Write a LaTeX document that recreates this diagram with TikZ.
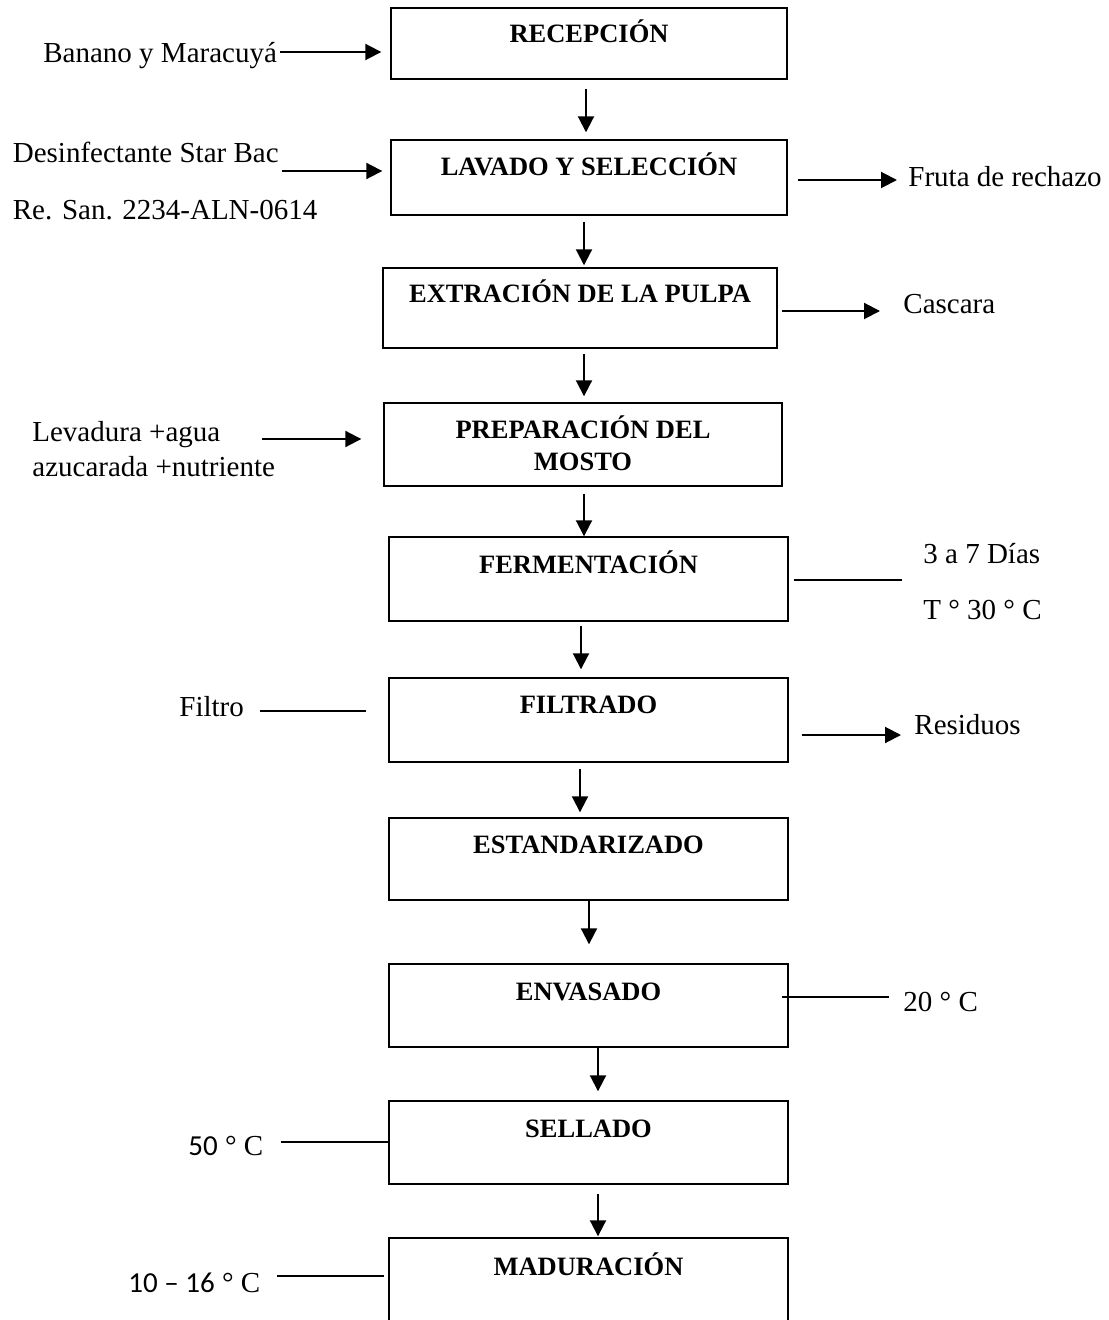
\documentclass[tikz,border=0pt]{standalone}
\usepackage{fontspec}
\setmainfont{Liberation Serif}
\newfontfamily\carl{Carlito}
\usetikzlibrary{arrows.meta}
\begin{document}
\begin{tikzpicture}[x=0.5pt,y=-0.5pt,
  box/.style={draw, line width=0.7pt, rectangle, inner sep=0pt},
  btxt/.style={font=\fontsize{13.25}{16}\selectfont\bfseries, inner sep=0pt, anchor=base},
  txt/.style={font=\fontsize{14.5}{17.5}\selectfont, inner sep=0pt, anchor=base west},
  arr/.style={line width=1pt, -{Triangle[length=8pt,width=8pt]}},
  ln/.style={line width=0.6pt}]
\useasboundingbox (0,0) rectangle (1108,1320);
\clip (0,0) rectangle (1108,1320);
\fill[white] (0,0) rectangle (1108,1320);

% process boxes
\node[box, minimum width=198pt, minimum height=35.5pt] (rec) at (589,43.5) {};
\node[btxt] (recT) at (589,43) {RECEPCIÓN};
\node[box, minimum width=198pt, minimum height=37.5pt] (lav) at (589,177.5) {};
\node[btxt] (lavT) at (589,176) {LAVADO Y SELECCIÓN};
\node[box, minimum width=197pt, minimum height=40pt] (ext) at (580,308) {};
\node[btxt] (extT) at (580,303) {EXTRACIÓN DE LA PULPA};
\node[box, minimum width=199pt, minimum height=41.5pt] (prep) at (583,444.5) {};
\node[btxt] (prepT1) at (583,438) {PREPARACIÓN DEL};
\node[btxt] (prepT2) at (583,470) {MOSTO};
\node[box, minimum width=199.5pt, minimum height=42pt] (ferm) at (588.5,579) {};
\node[btxt] (fermT) at (588.5,573) {FERMENTACIÓN};
\node[box, minimum width=199.5pt, minimum height=42pt] (filt) at (588.5,720) {};
\node[btxt] (filtT) at (588.5,713) {FILTRADO};
\node[box, minimum width=199.5pt, minimum height=41pt] (est) at (588.5,859) {};
\node[btxt] (estT) at (588.5,853) {ESTANDARIZADO};
\node[box, minimum width=199.5pt, minimum height=41.5pt] (env) at (588.5,1005.5) {};
\node[btxt] (envT) at (588.5,1000) {ENVASADO};
\node[box, minimum width=199.5pt, minimum height=41.5pt] (sell) at (588.5,1142.5) {};
\node[btxt] (sellT) at (588.5,1137) {SELLADO};
\node[box, minimum width=199.5pt, minimum height=50pt] (mad) at (588.5,1288) {};
\node[btxt] (madT) at (588.5,1275) {MADURACIÓN};

% vertical flow arrows
\draw[arr] ([xshift=-1.5pt,yshift=-4.5pt]rec.south) -- ([xshift=-1.5pt,yshift=3.5pt]lav.north);
\draw[arr] ([xshift=-2.5pt,yshift=-3pt]lav.south) -- ([xshift=2pt,yshift=1pt]ext.north);
\draw[arr] ([xshift=2pt,yshift=-2.5pt]ext.south) -- ([xshift=0.5pt,yshift=3pt]prep.north);
\draw[arr] ([xshift=0.5pt,yshift=-3.5pt]prep.south) -- ([xshift=-2.25pt,yshift=0pt]ferm.north);
\draw[arr] ([xshift=-3.75pt,yshift=-2pt]ferm.south) -- ([xshift=-3.75pt,yshift=4pt]filt.north);
\draw[arr] ([xshift=-4.25pt,yshift=-3pt]filt.south) -- ([xshift=-4.25pt,yshift=2.5pt]est.north);
\draw[arr] ([xshift=0.25pt]est.south) -- ([xshift=0.25pt,yshift=9.5pt]env.north);
\draw[arr] ([xshift=4.75pt]env.south) -- ([xshift=4.75pt,yshift=4.5pt]sell.north);
\draw[arr] ([xshift=4.75pt,yshift=-4.5pt]sell.south) -- ([xshift=4.75pt,yshift=0.5pt]mad.north);

% inputs and outputs
\node[txt] (ban) at (43,63) {Banano y Maracuyá};
\coordinate (banA) at (280,52);
\draw[arr, shorten >=4.5pt] (banA) -- (banA -| rec.west);

\node[txt] (des) at (12.5,163) {Desinfectante Star Bac};
\node[txt] (reg) at (12.5,220) {Re. San. 2234-ALN-0614};
\coordinate (desA) at (282,171);
\draw[arr, shorten >=4pt] (desA) -- (desA -| lav.west);

\coordinate (fruA) at (897,180);
\draw[arr, shorten <=5pt] (lav.east |- fruA) -- (fruA);
\node[txt] (fru) at (908,187) {Fruta de rechazo};

\coordinate (casA) at (880,311);
\draw[arr, shorten <=2pt] (ext.east |- casA) -- (casA);
\node[txt] (cas) at (903,314) {Cascara};

\node[txt] (lev1) at (32,441) {Levadura +agua};
\node[txt] (lev2) at (32,476) {azucarada +nutriente};
\coordinate (levA) at (262,439);
\draw[arr, shorten >=11pt] (levA) -- (levA -| prep.west);

\coordinate (ferA) at (902,580);
\draw[ln, shorten <=2.5pt] (ferm.east |- ferA) -- (ferA);
\node[txt] (dias) at (923,563) {3 a 7 Días};
\node[txt] (temp) at (923,619) {T ° 30 ° C};

\node[txt] (fil) at (179,716) {Filtro};
\coordinate (filA) at (260,711);
\draw[ln, shorten >=11pt] (filA) -- (filA -| filt.west);

\coordinate (resA) at (901,735);
\draw[arr, shorten <=6.5pt] (filt.east |- resA) -- (resA);
\node[txt] (res) at (914,734) {Residuos};

\coordinate (envA) at (889,997);
\draw[ln, shorten <=-3.5pt] (env.east |- envA) -- (envA);
\node[txt] (t20) at (903,1011) {20 ° C};

\node[txt] (t50) at (188,1155) {{\carl 50} ° C};
\coordinate (selA) at (281,1142);
\draw[ln] (selA) -- (selA -| sell.west);

\node[txt] (t10) at (128,1292) {{\carl 10 – 16} ° C};
\coordinate (madA) at (277,1276);
\draw[ln, shorten >=2pt] (madA) -- (madA -| mad.west);
\end{tikzpicture}
\end{document}
